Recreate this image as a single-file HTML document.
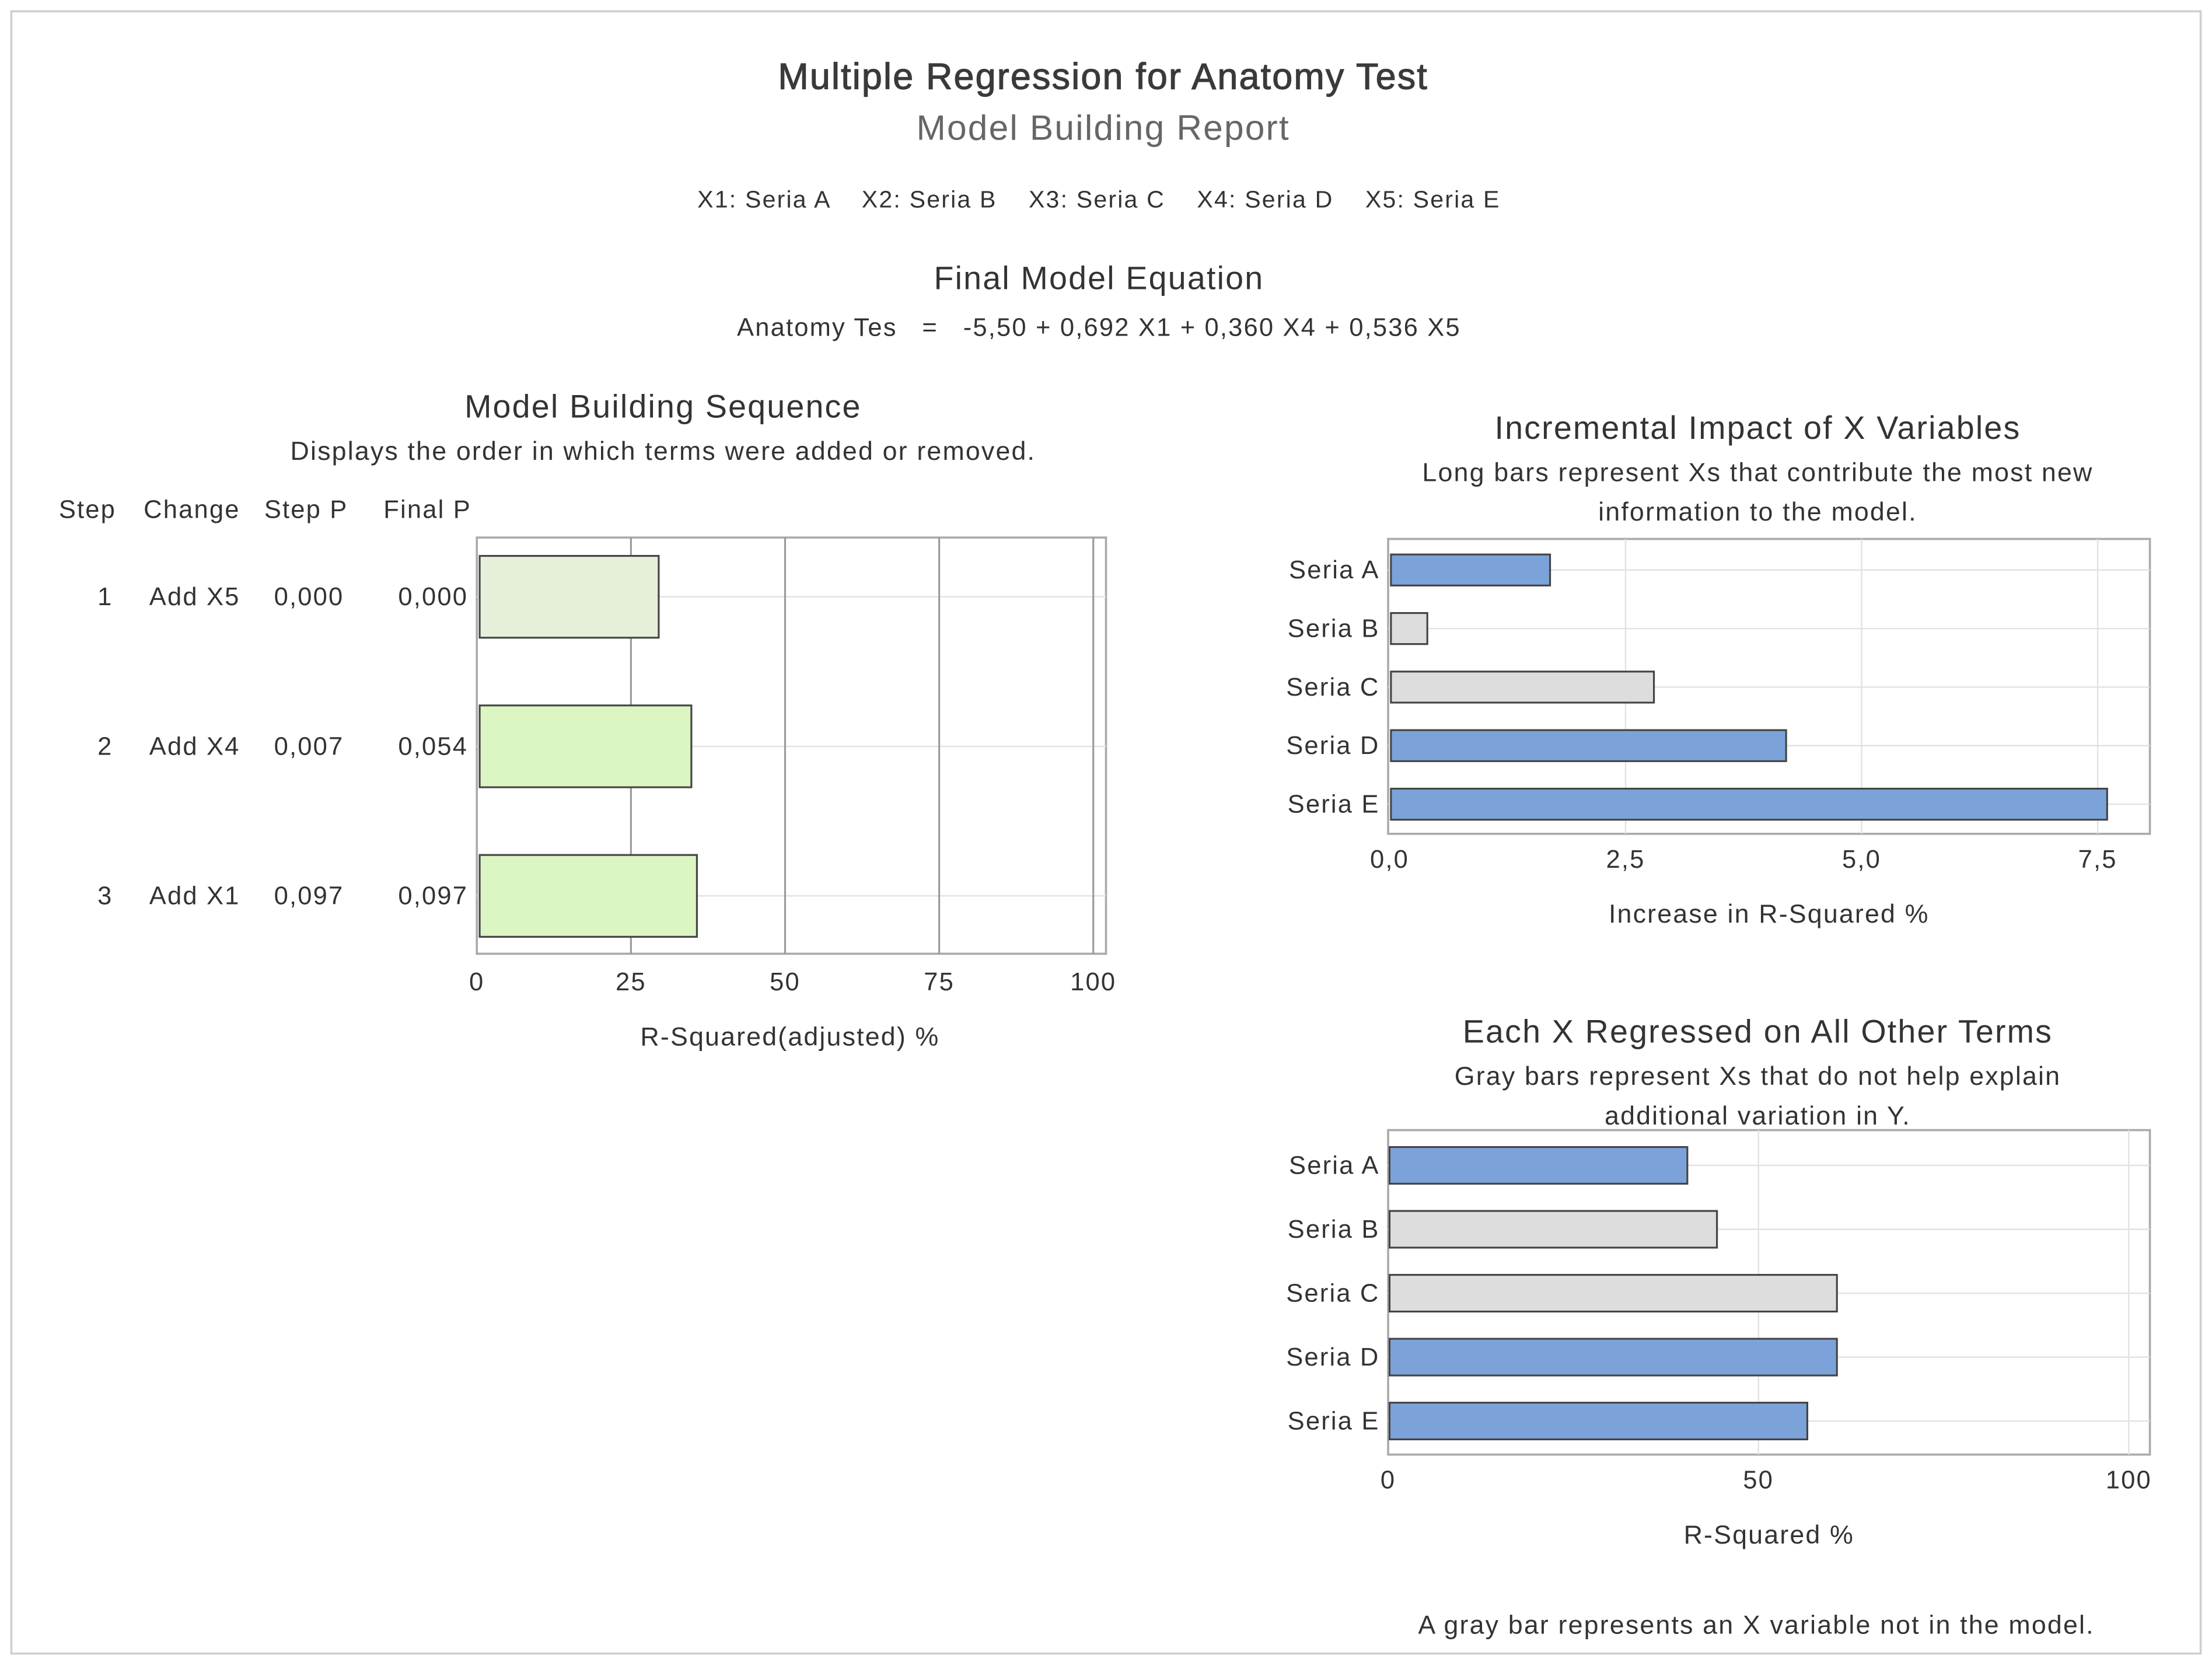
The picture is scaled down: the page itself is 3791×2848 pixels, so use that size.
<!DOCTYPE html>
<html><head><meta charset="utf-8">
<style>
html,body{margin:0;padding:0;background:#fff;}
svg{display:block;font-family:"Liberation Sans",sans-serif;}
text{fill:#333;letter-spacing:0.9px;}
</style></head>
<body>
<svg id="s" width="3791" height="2848" viewBox="0 0 1568 1178" xmlns="http://www.w3.org/2000/svg">
<rect x="8" y="8" width="1552" height="1164" fill="#fff" stroke="#cfcfcf" stroke-width="1.5"/>
<text x="782" y="63" font-size="26" text-anchor="middle" style="fill:#3a3a3a;stroke:#3a3a3a;stroke-width:0.5">Multiple Regression for Anatomy Test</text>
<text x="782" y="99" font-size="25" text-anchor="middle" style="fill:#666">Model Building Report</text>
<text x="779" y="147" font-size="17" text-anchor="middle" xml:space="preserve">X1: Seria A    X2: Seria B    X3: Seria C    X4: Seria D    X5: Seria E</text>
<text x="779" y="205" font-size="23" text-anchor="middle">Final Model Equation</text>
<text x="779" y="238" font-size="18" text-anchor="middle" xml:space="preserve">Anatomy Tes   =   -5,50 + 0,692 X1 + 0,360 X4 + 0,536 X5</text>

<text x="470" y="296" font-size="23" text-anchor="middle">Model Building Sequence</text>
<text x="470" y="326" font-size="18.5" text-anchor="middle">Displays the order in which terms were added or removed.</text>
<g font-size="18" text-anchor="middle">
<text x="62" y="367">Step</text>
<text x="136" y="367">Change</text>
<text x="217" y="367">Step P</text>
<text x="303" y="367">Final P</text>
</g>
<g id="seq"></g>

<text x="1246" y="311" font-size="23" text-anchor="middle">Incremental Impact of X Variables</text>
<text x="1246" y="341" font-size="18.5" text-anchor="middle">Long bars represent Xs that contribute the most new</text>
<text x="1246" y="369" font-size="18.5" text-anchor="middle">information to the model.</text>
<g id="imp"></g>

<text x="1246" y="739" font-size="23" text-anchor="middle">Each X Regressed on All Other Terms</text>
<text x="1246" y="769" font-size="18.5" text-anchor="middle">Gray bars represent Xs that do not help explain</text>
<text x="1246" y="797" font-size="18.5" text-anchor="middle">additional variation in Y.</text>
<g id="reg"></g>
<text x="1245" y="1158" font-size="18.5" text-anchor="middle">A gray bar represents an X variable not in the model.</text>
</svg>
<script>
const seqSteps = ["1","2","3"];
const seqChanges = ["Add X5","Add X4","Add X1"];
const seqStepP = ["0,000","0,007","0,097"];
const seqFinalP = ["0,000","0,054","0,097"];
const seqValues = [29.5, 34.8, 35.7];
const seqTicks = [0,25,50,75,100];

const impCategories = ["Seria A","Seria B","Seria C","Seria D","Seria E"];
const impValues = [1.7, 0.4, 2.8, 4.2, 7.6];
const impInModel = [true,false,false,true,true];
const impTicks = [0,2.5,5,7.5];
const impTickLabels = ["0,0","2,5","5,0","7,5"];

const regCategories = ["Seria A","Seria B","Seria C","Seria D","Seria E"];
const regValues = [40.4, 44.4, 60.6, 60.6, 56.6];
const regInModel = [true,false,false,true,true];
const regTicks = [0,50,100];

const NS="http://www.w3.org/2000/svg";
function mk(parent,tag,attrs,txt){const e=document.createElementNS(NS,tag);for(const k in attrs)e.setAttribute(k,attrs[k]);if(txt!==undefined)e.textContent=txt;parent.appendChild(e);return e;}

(function(){
  const g=document.getElementById('seq');
  const L=338,R=784,T=381,B=676,x0=338,x100=775;
  const x=v=>x0+(x100-x0)*v/100;
  const rowY=i=>423+i*106;
  const f=mk(g,'rect',{x:L,y:T,width:R-L,height:B-T,fill:'#fff',stroke:'#aaa','stroke-width':1.5});
  
  
  seqSteps.forEach((s,i)=>{const gl=mk(g,'line',{x1:L,x2:R,y1:rowY(i),y2:rowY(i),stroke:'#e2e2e2'});
    
    });
  seqTicks.forEach(t=>{
    if(t>0){const gl=mk(g,'line',{x1:x(t),x2:x(t),y1:T,y2:B,stroke:'#9a9a9a','stroke-width':1.3});
      
      }
    const tl=mk(g,'text',{x:x(t),y:702,'font-size':18,'text-anchor':'middle'},String(t));
    
    
  });
  seqValues.forEach((v,i)=>{
    const b=mk(g,'rect',{x:x(0)+2,y:rowY(i)-29,width:x(v)-x(0)-2,height:58,fill:i==0?'#e5efda':'#dbf5c3',stroke:'#444','stroke-width':1.3});
    
    
    const cols=[[80,seqSteps[i],'end'],[138,seqChanges[i],'middle'],[219,seqStepP[i],'middle'],[307,seqFinalP[i],'middle']];
    cols.forEach((c,j)=>{const t=mk(g,'text',{x:c[0],y:rowY(i)+6,'font-size':18,'text-anchor':c[2]},c[1]);
      
      });
  });
  const at=mk(g,'text',{x:560,y:741,'font-size':18.5,'text-anchor':'middle'},'R-Squared(adjusted) %');
  
  
})();

function hbar(id,cats,vals,inModel,ticks,labels,L,R,T,B,x0,xmaxPx,vmax,rowStart,rowStep,bh,tickY,title,titleY,prefix){
  const g=document.getElementById(id);
  const x=v=>x0+(xmaxPx-x0)*v/vmax;
  const f=mk(g,'rect',{x:L,y:T,width:R-L,height:B-T,fill:'#fff',stroke:'#aaa','stroke-width':1.5});
  
  
  ticks.forEach((t,i)=>{
    if(t>0){const gl=mk(g,'line',{x1:x(t),x2:x(t),y1:T,y2:B,stroke:'#e2e2e2'});
      
      }
    const tl=mk(g,'text',{x:x(t),y:tickY,'font-size':18,'text-anchor':'middle'},labels[i]);
    
    
  });
  cats.forEach((c,i)=>{
    const y=rowStart+i*rowStep;
    const gl=mk(g,'line',{x1:L,x2:R,y1:y,y2:y,stroke:'#e2e2e2'});
    
    
    const b=mk(g,'rect',{x:x(0)+1,y:y-bh/2,width:x(vals[i])-x(0)-1,height:bh,fill:inModel[i]?'#7ba3d9':'#dddddd',stroke:'#444','stroke-width':1.3});
    
    
    const l=mk(g,'text',{x:L-6,y:y+6,'font-size':18,'text-anchor':'end'},c);
    
    
  });
  const at=mk(g,'text',{x:1254,y:titleY,'font-size':18.5,'text-anchor':'middle'},title);
  
  
}
hbar('imp',impCategories,impValues,impInModel,impTicks,impTickLabels,984,1524,382,591,985,1487,7.5,404,41.5,22,615,'Increase in R-Squared %',654,'impact');
hbar('reg',regCategories,regValues,regInModel,regTicks,regTicks.map(String),984,1524,801,1031,984,1509,100,826,45.3,26,1055,'R-Squared %',1094,'regressed');
</script>
</body></html>
